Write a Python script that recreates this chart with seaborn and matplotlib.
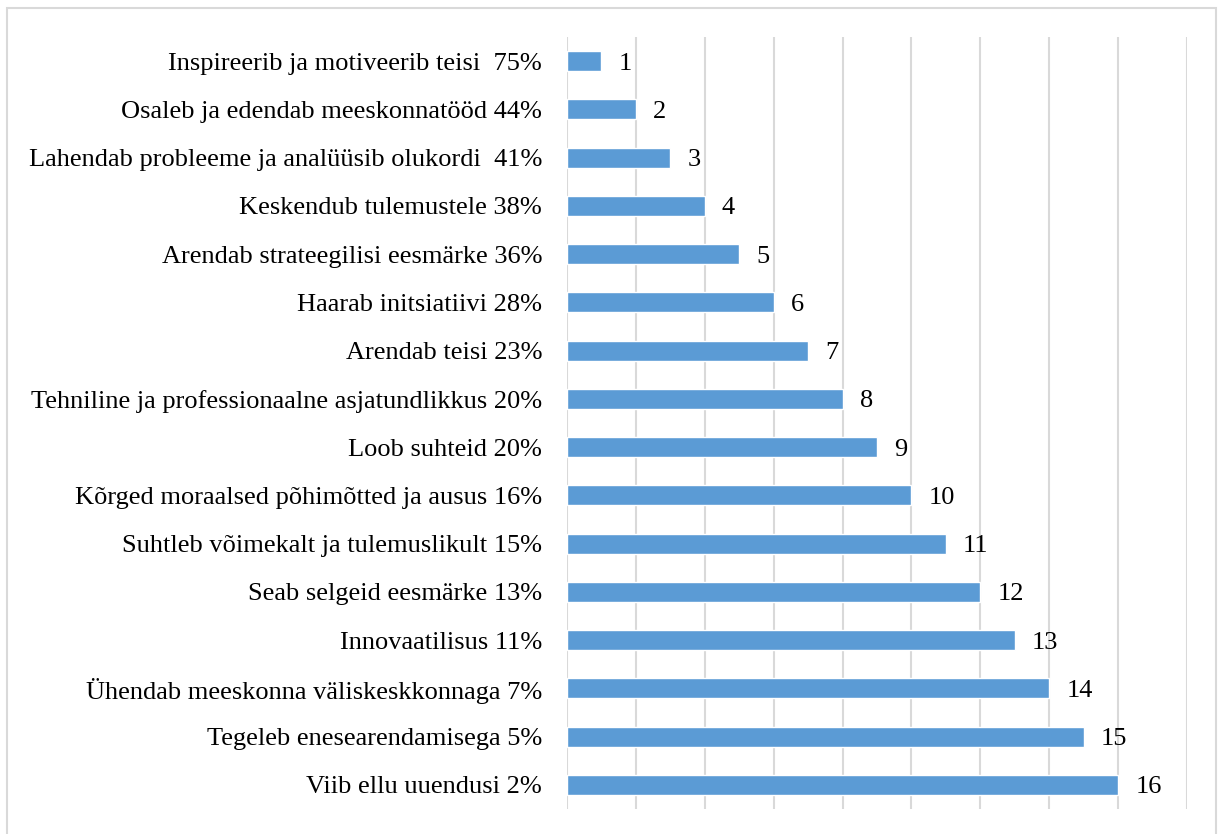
import matplotlib
matplotlib.use("Agg")
import matplotlib.pyplot as plt
import seaborn as sns
import pandas as pd
from matplotlib.patches import Rectangle

qualities = [
    "Inspireerib ja motiveerib teisi ",
    "Osaleb ja edendab meeskonnatööd",
    "Lahendab probleeme ja analüüsib olukordi ",
    "Keskendub tulemustele",
    "Arendab strateegilisi eesmärke",
    "Haarab initsiatiivi",
    "Arendab teisi",
    "Tehniline ja professionaalne asjatundlikkus",
    "Loob suhteid",
    "Kõrged moraalsed põhimõtted ja ausus",
    "Suhtleb võimekalt ja tulemuslikult",
    "Seab selgeid eesmärke",
    "Innovaatilisus",
    "Ühendab meeskonna väliskeskkonnaga",
    "Tegeleb enesearendamisega",
    "Viib ellu uuendusi",
]
shares = ["75%", "44%", "41%", "38%", "36%", "28%", "23%", "20%",
          "20%", "16%", "15%", "13%", "11%", "7%", "5%", "2%"]
ranks = [1, 2, 3, 4, 5, 6, 7, 8, 9, 10, 11, 12, 13, 14, 15, 16]

labels = [f"{q} {s}" for q, s in zip(qualities, shares)]
df = pd.DataFrame({"label": labels, "rank": ranks})

sns.set_theme(style="white")
plt.rcParams["font.family"] = ["Liberation Serif", "DejaVu Serif"]

fig = plt.figure(figsize=(12.18, 8.34), dpi=100)
fig.patches.append(Rectangle((7 / 1218, -0.01), 1209 / 1218, 1 - 8 / 834 + 0.01,
                             transform=fig.transFigure, fill=False,
                             edgecolor="#d9d9d9", linewidth=1.5, zorder=0))

ax = fig.add_axes([567 / 1218, 1 - 809 / 834, 620 / 1218, 772 / 834])
sns.barplot(data=df, x="rank", y="label", orient="h", color="#5B9BD5",
            saturation=1, width=0.41, ax=ax, zorder=3)

ax.set_xlim(0, 18)
ax.set_ylim(15.5, -0.5)
ax.set_xticks(range(0, 19, 2))
ax.set_xticklabels([])
ax.tick_params(axis="x", length=0)
ax.tick_params(axis="y", length=0, pad=18, labelsize=19, labelcolor="black")
ax.grid(axis="x", color="#d9d9d9", linewidth=1.5, zorder=0)
ax.grid(axis="y", visible=False)
for side in ["top", "right", "bottom", "left"]:
    ax.spines[side].set_visible(False)
ax.set_xlabel("")
ax.set_ylabel("")

for i, v in enumerate(ranks):
    ax.text(v + 0.5, i, str(v), va="center_baseline", ha="left", fontsize=19,
            color="black")

fig.savefig("out.png", dpi=100, facecolor="white")
